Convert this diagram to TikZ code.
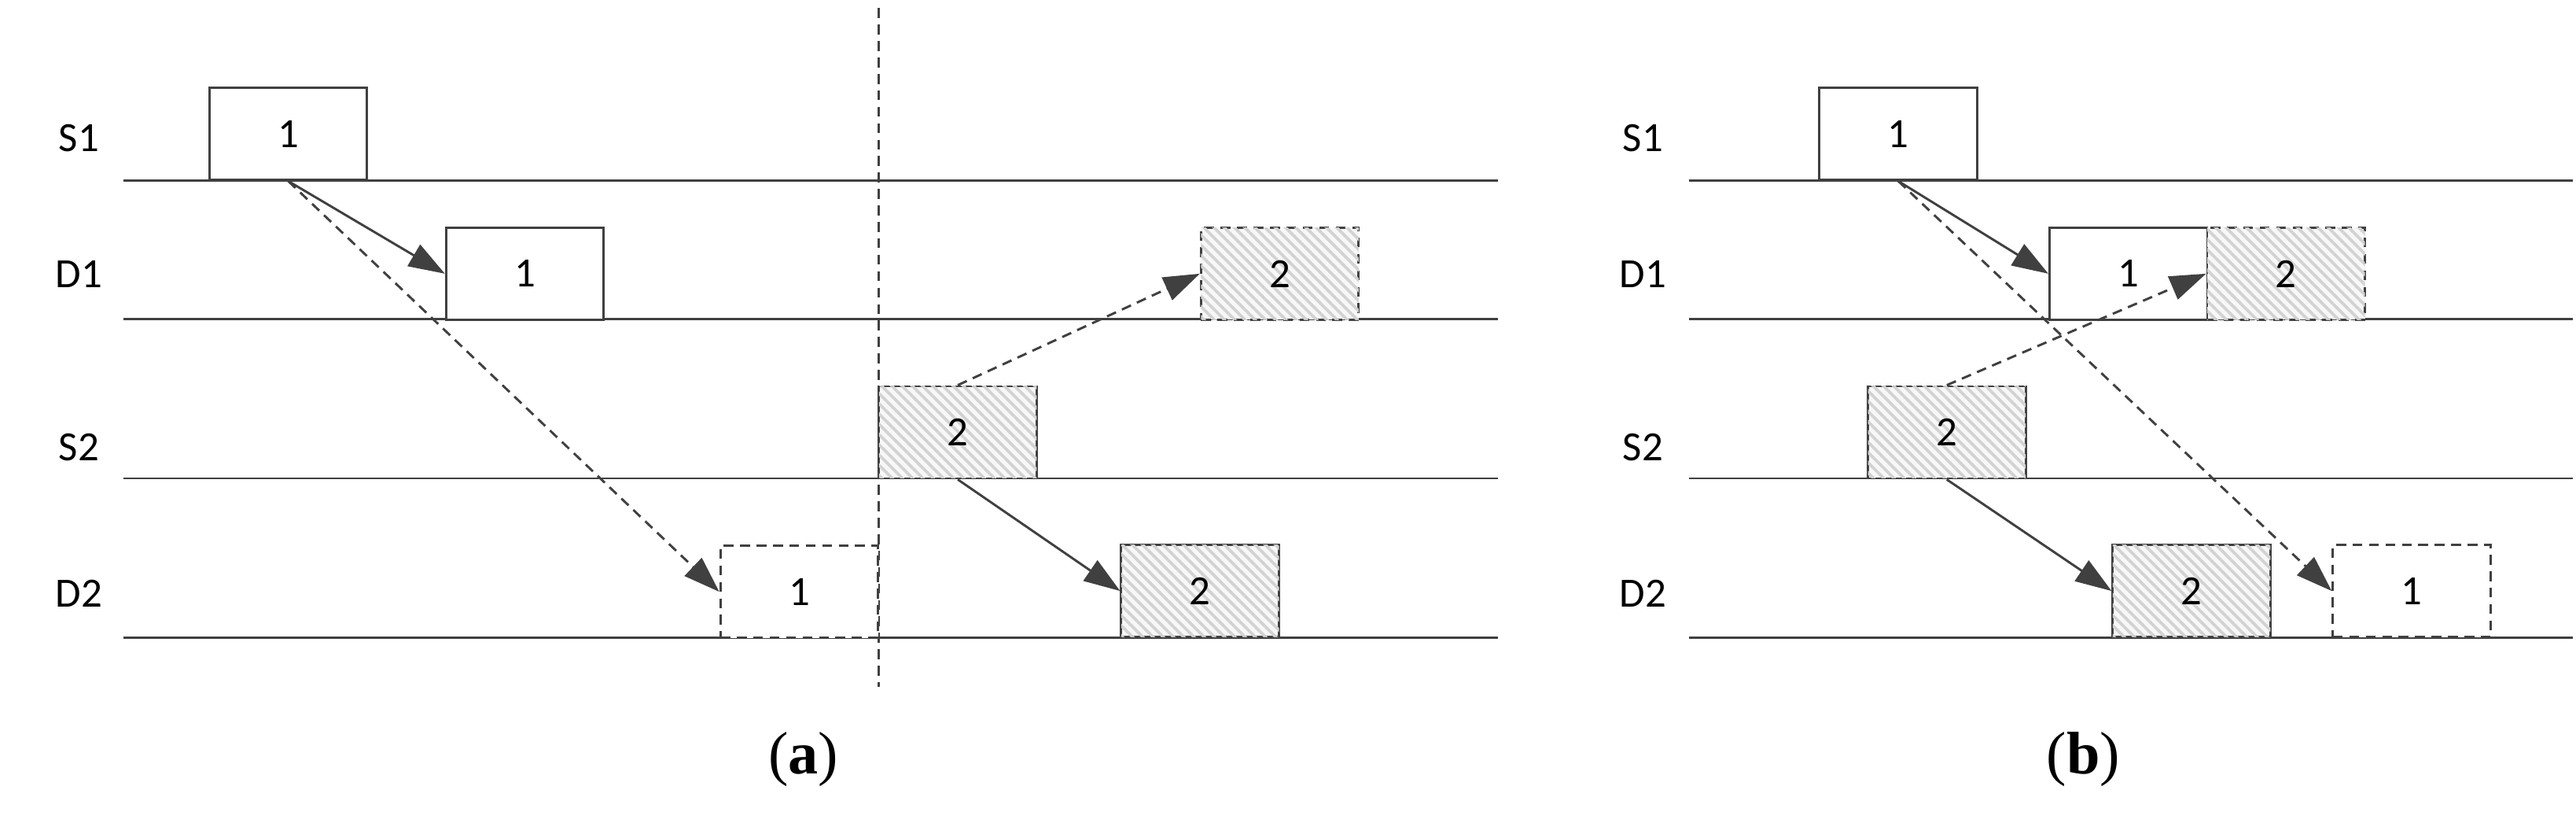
\documentclass[tikz,border=0pt]{standalone}
\usepackage{fontspec}
\setmainfont{Carlito}
\newfontfamily\seriffont{Liberation Serif}
\usetikzlibrary{arrows.meta,patterns.meta}
\definecolor{ln}{HTML}{404040}
\tikzset{
  box/.style={draw=ln,line width=2pt,minimum width=4.8cm,minimum height=2.8cm,inner sep=0pt,font=\fontsize{36}{36}\selectfont,fill=white},
  hbox/.style={box,fill=gray!6,postaction={pattern={Lines[angle=-45,distance=0.22cm,line width=0.09cm]},pattern color=gray!35}},
  dbox/.style={dash pattern=on 0.3cm off 0.2cm},
  lane/.style={ln,line width=2pt},
  lab/.style={font=\fontsize{36}{36}\selectfont},
  conn/.style={ln,line width=2pt,-{Triangle[length=1.1cm,width=0.75cm]}},
  dconn/.style={conn,dash pattern=on 0.3cm off 0.2cm},
  captext/.style={font=\seriffont\fontsize{52}{52}\selectfont}
}
\begin{document}
\begin{tikzpicture}[x=0.05cm,y=-0.05cm]
\useasboundingbox (0,0) rectangle (1568,507);
% panel a
\foreach \y in {110,194,291,388}{\draw[lane] (75,\y) -- (912,\y);}
\node[lab] (la1) at (48,84) {S1};
\node[lab] (la2) at (48,167) {D1};
\node[lab] (la3) at (48,272) {S2};
\node[lab] (la4) at (48,361) {D2};
\draw[lane,dash pattern=on 0.3cm off 0.2cm] (535,5) -- (535,418);
\node[box] (as1) at (175.5,81.5) {1};
\node[box] (ad1) at (319.5,166.5) {1};
\node[box,dbox] (ad2) at (486.5,360) {1};
\node[hbox] (as2) at (583,263) {2};
\node[hbox,dbox] (ad1b) at (779,166.5) {2};
\node[hbox] (ad2b) at (730.5,359.5) {2};
\draw[conn] (as1.south) -- (ad1.west);
\draw[dconn] (as1.south) -- (ad2.west);
\draw[dconn] (as2.north) -- (ad1b.west);
\draw[conn] (as2.south) -- (ad2b.west);
\node[captext] (ca) at (489,462) {(\textbf{a})};
% panel b
\foreach \y in {110,194,291,388}{\draw[lane] (1028,\y) -- (1566,\y);}
\node[lab] (lb1) at (1000,84) {S1};
\node[lab] (lb2) at (1000,167) {D1};
\node[lab] (lb3) at (1000,272) {S2};
\node[lab] (lb4) at (1000,361) {D2};
\node[box] (bs1) at (1155.5,81.5) {1};
\node[box] (bd1) at (1295.5,166.5) {1};
\node[hbox,dbox] (bd1b) at (1391.5,166.5) {2};
\node[hbox] (bs2) at (1185,263) {2};
\node[hbox] (bd2b) at (1334,359.5) {2};
\node[box,dbox] (bd2) at (1468,359.5) {1};
\draw[conn] (bs1.south) -- (bd1.west);
\draw[dconn] (bs1.south) -- (bd2.west);
\draw[dconn] (bs2.north) -- (bd1b.west);
\draw[conn] (bs2.south) -- (bd2b.west);
\node[captext] (cb) at (1268,462) {(\textbf{b})};
\end{tikzpicture}
\end{document}
